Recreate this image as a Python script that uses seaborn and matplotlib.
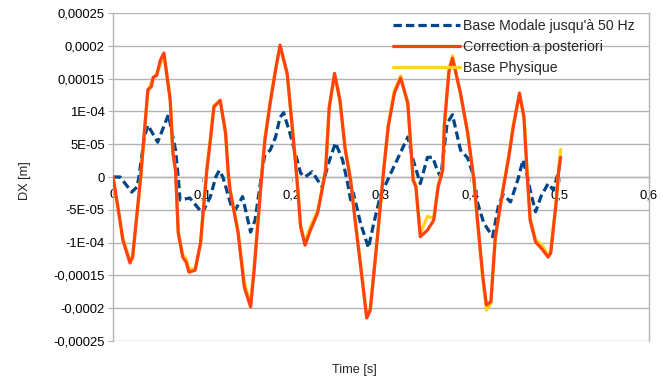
import matplotlib
matplotlib.use("Agg")
import matplotlib.pyplot as plt
import seaborn as sns
import pandas as pd

# ---------------- data (DX values in units of 1e-5 m) ----------------
t_modale = [0.000, 0.008, 0.021, 0.027, 0.029, 0.035, 0.039, 0.050, 0.062, 0.070,
            0.073, 0.075, 0.086, 0.100, 0.109, 0.115, 0.119, 0.123, 0.133, 0.137,
            0.145, 0.154, 0.159, 0.167, 0.170, 0.176, 0.182, 0.187, 0.191, 0.198,
            0.210, 0.215, 0.223, 0.234, 0.241, 0.249, 0.257, 0.262, 0.266, 0.269,
            0.277, 0.286, 0.291, 0.299, 0.311, 0.318, 0.330, 0.336, 0.344, 0.352,
            0.358, 0.363, 0.367, 0.374, 0.380, 0.389, 0.397, 0.404, 0.406, 0.415,
            0.425, 0.432, 0.437, 0.445, 0.453, 0.459, 0.464, 0.467, 0.473, 0.479,
            0.487, 0.493, 0.499, 0.501]
dx_modale = [0.0, 0.0, -2.3, -1.5, 0.0, 6.0, 7.9, 5.3, 9.5, 4.1,
             0.0, -3.5, -3.2, -5.5, -3.0, 0.0, 1.0, 0.0, -4.7, -5.0,
             -3.0, -8.4, -6.6, 1.0, 3.4, 4.1, 6.1, 9.1, 9.8, 6.7,
             0.6, 0.0, 0.8, -1.5, 2.0, 5.2, 2.6, -0.5, -3.5, -2.4,
             -7.0, -10.8, -7.6, -3.0, 0.6, 2.6, 6.1, 2.6, -1.0, 3.0,
             3.0, 1.0, 0.0, 8.2, 9.5, 4.1, 2.9, 0.0, -3.0, -7.0,
             -9.1, -4.0, -2.7, -3.8, -0.5, 2.6, 0.0, -2.0, -5.3, -3.0,
             -1.0, -2.0, 1.0, 3.0]

t_corr = [0.000, 0.006, 0.011, 0.019, 0.022, 0.028, 0.031, 0.039, 0.043, 0.045,
          0.049, 0.053, 0.057, 0.064, 0.067, 0.070, 0.073, 0.078, 0.082, 0.085,
          0.092, 0.098, 0.105, 0.109, 0.113, 0.120, 0.126, 0.129, 0.131, 0.140,
          0.147, 0.154, 0.158, 0.164, 0.167, 0.170, 0.176, 0.182, 0.187, 0.195,
          0.202, 0.206, 0.210, 0.215, 0.221, 0.229, 0.234, 0.238, 0.242, 0.248,
          0.254, 0.260, 0.266, 0.271, 0.279, 0.284, 0.288, 0.296, 0.303, 0.308,
          0.315, 0.322, 0.330, 0.336, 0.339, 0.344, 0.352, 0.359, 0.364, 0.369,
          0.371, 0.376, 0.380, 0.389, 0.397, 0.404, 0.408, 0.414, 0.418, 0.423,
          0.428, 0.436, 0.443, 0.448, 0.455, 0.460, 0.464, 0.467, 0.473, 0.481,
          0.487, 0.490, 0.496, 0.499, 0.501]
dx_corr = [0.0, -5.0, -9.6, -13.1, -12.2, -4.0, 0.0, 13.3, 13.8, 15.2,
           15.5, 17.8, 18.9, 11.7, 3.7, 1.0, -8.5, -12.2, -13.0, -14.5,
           -14.2, -10.0, 1.0, 5.6, 10.7, 11.7, 6.7, 0.6, -2.0, -8.5,
           -16.8, -19.8, -14.2, -4.0, 1.0, 5.6, 11.3, 16.3, 20.1, 15.8,
           5.6, -0.5, -7.6, -10.4, -8.1, -5.5, -2.0, 1.0, 10.5, 15.8,
           11.7, 4.1, -0.5, -6.6, -15.7, -21.5, -20.3, -9.1, 1.0, 7.6,
           12.8, 15.1, 11.3, -0.5, -1.5, -9.1, -8.1, -6.6, -1.5, 1.0,
           8.0, 16.0, 18.1, 12.8, 6.7, -0.5, -6.6, -15.2, -19.5, -19.0,
           -9.1, -2.4, 3.0, 7.6, 12.8, 9.1, -0.5, -6.6, -9.9, -11.1,
           -12.2, -11.6, -4.0, 1.0, 3.0]

t_phys = t_corr
dx_phys = [0.0, -5.2, -9.3, -12.8, -12.0, -4.2, 0.0, 13.0, 14.5, 15.0,
           15.8, 17.2, 18.6, 12.2, 4.0, 1.0, -8.2, -11.8, -12.5, -14.0,
           -14.0, -10.2, 1.2, 5.9, 10.9, 11.5, 6.9, 0.8, -1.8, -8.2,
           -16.0, -19.5, -13.5, -3.8, 1.2, 5.9, 11.6, 16.6, 19.8, 15.6,
           5.9, -0.3, -7.3, -10.0, -7.5, -5.2, -1.8, 1.2, 10.8, 15.5,
           11.9, 4.4, -0.3, -6.3, -15.4, -21.2, -20.0, -9.3, 1.2, 7.9,
           13.2, 15.4, 11.0, -0.3, -1.2, -8.6, -6.0, -6.3, -1.2, 1.2,
           8.3, 16.4, 18.5, 12.5, 6.9, -0.3, -6.9, -15.6, -20.3, -19.3,
           -9.4, -2.2, 3.3, 7.9, 12.5, 9.4, -0.2, -6.3, -9.5, -10.5,
           -12.0, -11.3, -3.7, 1.4, 4.2]

series_names = ["Base Modale jusqu'à 50 Hz", "Correction a posteriori", "Base Physique"]
series_colors = ["#004586", "#ff420e", "#ffd320"]

y_ticks = [-0.00025, -0.0002, -0.00015, -0.0001, -0.00005, 0.0, 0.00005, 0.0001, 0.00015, 0.0002, 0.00025]
y_ticklabels = ["-0,00025", "-0,0002", "-0,00015", "-1E-04", "-5E-05", "0",
                "5E-05", "1E-04", "0,00015", "0,0002", "0,00025"]
x_ticks = [0.0, 0.1, 0.2, 0.3, 0.4, 0.5, 0.6]
x_ticklabels = ["0", "0,1", "0,2", "0,3", "0,4", "0,5", "0,6"]

# ---------------- figure ----------------
sns.set_theme(style="white")
plt.rcParams['font.family'] = ['Liberation Sans', 'DejaVu Sans']

fig = plt.figure(figsize=(6.63, 3.82), dpi=100)
ax = fig.add_axes([113/663, 1-341/382, (649-113)/663, (341-13)/382])

df_mod = pd.DataFrame({"t": t_modale, "dx": [v * 1e-5 for v in dx_modale]})
df_cor = pd.DataFrame({"t": t_corr, "dx": [v * 1e-5 for v in dx_corr]})
df_phy = pd.DataFrame({"t": t_phys, "dx": [v * 1e-5 for v in dx_phys]})

sns.lineplot(data=df_mod, x="t", y="dx", ax=ax, color=series_colors[0], lw=2.3,
             sort=False, estimator=None, label=series_names[0], zorder=3)
ax.lines[-1].set_dashes([2.6, 1.3])
ax.lines[-1].set_dash_capstyle("butt")
sns.lineplot(data=df_cor, x="t", y="dx", ax=ax, color=series_colors[1], lw=2.3,
             sort=False, estimator=None, label=series_names[1], zorder=5)
sns.lineplot(data=df_phy, x="t", y="dx", ax=ax, color=series_colors[2], lw=2.3,
             sort=False, estimator=None, label=series_names[2], zorder=4)

ax.set_xlim(0, 0.6)
ax.set_ylim(-0.00025, 0.00025)
ax.set_yticks(y_ticks)
ax.set_yticklabels(y_ticklabels)
ax.set_xticks(x_ticks)
ax.set_xticklabels(x_ticklabels)

grid_c = "#b3b3b3"
ax.yaxis.grid(True, color=grid_c, lw=1.0, zorder=0)
ax.xaxis.grid(False)
ax.set_axisbelow(True)

ax.spines['top'].set_visible(False)
ax.spines['right'].set_visible(True)
ax.spines['bottom'].set_position(('data', 0))
for s in ['left', 'right', 'bottom']:
    ax.spines[s].set_color(grid_c)
    ax.spines[s].set_linewidth(1.0)

ax.tick_params(axis='y', which='major', left=True, length=3.5, width=0.8, color=grid_c,
               labelsize=9.4, labelcolor="black", pad=2.5)
ax.tick_params(axis='x', which='major', bottom=True, length=3.5, width=0.8, color=grid_c,
               labelsize=9.4, labelcolor="black", pad=5.5)

ax.set_xlabel("")
ax.set_ylabel("")
fig.text(354.5/663, 1-370/382, "Time [s]", ha="center", va="center", fontsize=9.2)
fig.text(25/663, 1-181/382, "DX [m]", ha="center", va="center", rotation=90, fontsize=9.2)

handles, labels = ax.get_legend_handles_labels()
leg = ax.legend(handles, labels, loc="upper left", bbox_to_anchor=(393/663, 1-19/382),
                bbox_transform=fig.transFigure, frameon=False, fontsize=10.2,
                handlelength=4.75, handletextpad=0.2, labelspacing=0.5,
                borderpad=0, borderaxespad=0)
for h in leg.get_lines():
    h.set_linewidth(2.3)

fig.savefig("out.png", dpi=100)
